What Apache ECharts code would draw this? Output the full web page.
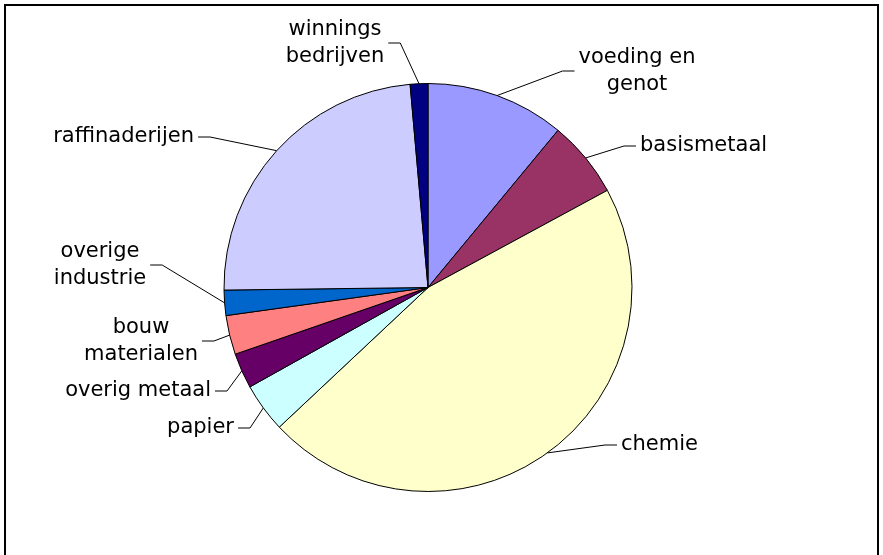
<!DOCTYPE html>
<html>
<head>
<meta charset="utf-8">
<script src="https://cdn.jsdelivr.net/npm/echarts@6/dist/echarts.min.js"></script>
<style>
  html, body { margin: 0; padding: 0; background: #fff; }
  #chart { width: 883px; height: 555px; }
</style>
</head>
<body>
<div id="chart"></div>
<script>
// sectoren, met de klok mee vanaf 12 uur
var categories = ['voeding en\ngenot', 'basismetaal', 'chemie', 'papier', 'overig metaal',
    'bouw\nmaterialen', 'overige\nindustrie', 'raffinaderijen', 'winnings\nbedrijven'];
var shares = [11.0, 6.1, 45.9, 3.9, 2.8, 3.1, 2.0, 23.8, 1.4];
var sliceColors = ['#9999FF', '#993366', '#FFFFCC', '#CCFFFF', '#660066',
    '#FF8080', '#0066CC', '#CCCCFF', '#000080'];
// label anchor [x, y, align]
var labelSpots = [
    [637, 71, 'center'],
    [636, 146, 'left'],
    [617, 445, 'left'],
    [238, 428, 'right'],
    [215, 391, 'right'],
    [141, 341, 'center'],
    [100, 265, 'center'],
    [198, 137, 'right'],
    [335, 43, 'center']
];

var pieData = categories.map(function (name, i) {
    return { name: name, value: shares[i], itemStyle: { color: sliceColors[i] } };
});

var option = {
    backgroundColor: '#ffffff',
    animation: false,
    graphic: [{
        type: 'rect',
        shape: { x: 5, y: 5, width: 873, height: 600 },
        style: { fill: 'none', stroke: '#000', lineWidth: 2 },
        silent: true
    }],
    series: [{
        type: 'pie',
        center: [428, 287.5],
        radius: 204,
        startAngle: 90,
        clockwise: true,
        avoidLabelOverlap: false,
        data: pieData,
        itemStyle: {
            borderColor: '#000',
            borderWidth: 1
        },
        label: {
            show: true,
            position: 'outside',
            color: '#000',
            fontFamily: 'DejaVu Sans',
            fontSize: 21,
            lineHeight: 27,
            padding: [0, 4]
        },
        labelLine: {
            show: true,
            length: 20,
            length2: 12,
            smooth: false,
            lineStyle: { color: '#000', width: 1 }
        },
        labelLayout: function (params) {
            var s = labelSpots[params.dataIndex];
            return { x: s[0], y: s[1], align: s[2], verticalAlign: 'middle' };
        },
        emphasis: { disabled: true }
    }]
};

var chart = echarts.init(document.getElementById('chart'));
chart.setOption(option);
</script>
</body>
</html>
